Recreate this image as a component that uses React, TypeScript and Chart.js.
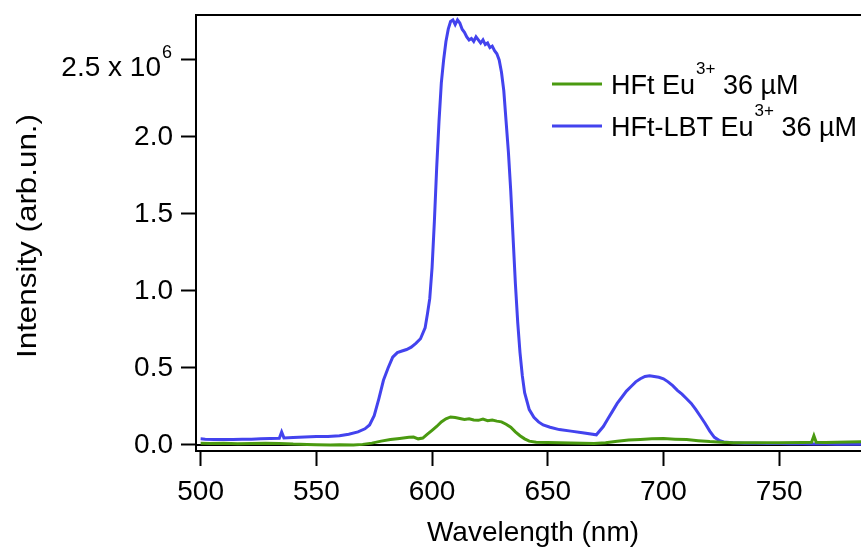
import React, { useEffect, useRef } from "react";
import { Chart, registerables } from "chart.js";

Chart.register(...registerables);

// HFt Eu3+ 36 µM (green) — wavelength (nm) and intensity (×10^6 arb.un.)
const hftWavelength = [
  500, 504, 510, 516, 522, 528, 534, 540, 546, 550, 556, 560, 566, 570, 574, 578,
  582, 586, 590, 592, 594, 596, 598, 600, 602, 604, 606, 608, 610, 612, 614, 616,
  618, 620, 622, 624, 626, 628, 630, 632, 634, 636, 638, 640, 642, 645, 650, 655,
  660, 665, 670, 675, 680, 685, 690, 695, 700, 705, 710, 715, 720, 725, 730, 740,
  750, 760, 764, 765, 766, 770, 775, 780, 786,
];
const hftIntensity = [
  0.012, 0.010, 0.012, 0.008, 0.010, 0.012, 0.010, 0.006, 0.004, 0.002, 0.000, 0.002, 0.000, 0.004, 0.012, 0.025,
  0.035, 0.042, 0.050, 0.052, 0.040, 0.045, 0.070, 0.095, 0.120, 0.150, 0.170, 0.182, 0.178, 0.172, 0.166, 0.170,
  0.162, 0.160, 0.168, 0.158, 0.162, 0.155, 0.150, 0.135, 0.115, 0.085, 0.060, 0.040, 0.025, 0.018, 0.016, 0.015,
  0.013, 0.012, 0.010, 0.015, 0.025, 0.032, 0.036, 0.040, 0.042, 0.038, 0.035, 0.028, 0.022, 0.018, 0.015, 0.014,
  0.014, 0.016, 0.018, 0.060, 0.018, 0.016, 0.018, 0.020, 0.022,
];

// HFt-LBT Eu3+ 36 µM (blue)
const lbtWavelength = [
  500, 502, 506, 510, 514, 518, 522, 526, 530, 534, 535, 536, 540, 545, 550, 555,
  560, 564, 568, 571, 573, 575, 577, 579, 581, 583, 585, 587, 589, 591, 593, 595,
  597, 598, 599, 600, 601, 602, 603, 604, 605, 606, 607, 608, 609, 610, 611, 612,
  613, 614, 615, 616, 617, 618, 619, 620, 621, 622, 623, 624, 625, 626, 627, 628,
  629, 630, 631, 632, 633, 634, 635, 636, 637, 638, 639, 640, 642, 644, 646, 648,
  651, 655, 660, 665, 671, 674, 676, 678, 680, 682, 684, 686, 688, 690, 692, 694,
  696, 698, 700, 702, 704, 706, 708, 710, 712, 714, 716, 718, 720, 722, 724, 726,
  730, 735, 740, 745, 750, 755, 760, 765, 770, 775, 780, 786,
];
const lbtIntensity = [
  0.040, 0.038, 0.036, 0.035, 0.036, 0.038, 0.037, 0.040, 0.042, 0.044, 0.085, 0.046, 0.048, 0.052, 0.055, 0.055,
  0.060, 0.070, 0.085, 0.105, 0.130, 0.190, 0.300, 0.420, 0.500, 0.570, 0.600, 0.610, 0.620, 0.635, 0.660, 0.690,
  0.760, 0.850, 0.950, 1.150, 1.450, 1.800, 2.100, 2.350, 2.500, 2.620, 2.700, 2.750, 2.760, 2.730, 2.760, 2.740,
  2.700, 2.680, 2.650, 2.630, 2.640, 2.620, 2.650, 2.630, 2.610, 2.630, 2.600, 2.610, 2.580, 2.590, 2.560, 2.540,
  2.500, 2.420, 2.300, 2.100, 1.900, 1.650, 1.350, 1.050, 0.800, 0.600, 0.450, 0.340, 0.230, 0.180, 0.150, 0.130,
  0.115, 0.100, 0.090, 0.080, 0.066, 0.120, 0.170, 0.220, 0.270, 0.310, 0.350, 0.380, 0.410, 0.430, 0.445, 0.450,
  0.445, 0.440, 0.430, 0.410, 0.385, 0.355, 0.330, 0.300, 0.270, 0.230, 0.185, 0.140, 0.090, 0.050, 0.030, 0.020,
  0.015, 0.012, 0.012, 0.010, 0.010, 0.008, 0.008, 0.006, 0.006, 0.005, 0.005, 0.005,
];

const xTickValues = [500, 550, 600, 650, 700, 750];
const yTickValues = [0, 0.5, 1.0, 1.5, 2.0, 2.5];

const GREEN = "#4a9a10";
const BLUE = "#4343ee";
const FONT = "'Liberation Sans', Arial, sans-serif";

const overlayPlugin = {
  id: "overlay",
  beforeDatasetsDraw(chart: any) {
    const { ctx, chartArea } = chart;
    const y0 = chart.scales.y.getPixelForValue(0);
    ctx.save();
    ctx.strokeStyle = "#000";
    ctx.lineWidth = 2;
    ctx.beginPath();
    ctx.moveTo(chartArea.left, y0);
    ctx.lineTo(chartArea.right, y0);
    ctx.stroke();
    ctx.restore();
  },
  afterDraw(chart: any) {
    const { ctx, chartArea } = chart;
    ctx.save();
    // top frame
    ctx.strokeStyle = "#000";
    ctx.lineWidth = 2;
    ctx.beginPath();
    ctx.moveTo(chartArea.left - 1, chartArea.top);
    ctx.lineTo(chartArea.right, chartArea.top);
    ctx.stroke();

    ctx.fillStyle = "#000";
    // top y tick label "2.5 x 10^6"
    const yTop = chart.scales.y.getPixelForValue(2.5);
    ctx.textAlign = "left";
    ctx.textBaseline = "alphabetic";
    const mainTxt = "2.5 x 10";
    ctx.font = `18px ${FONT}`;
    const supW = ctx.measureText("6").width;
    ctx.font = `28px ${FONT}`;
    const mainW = ctx.measureText(mainTxt).width;
    const rightEdge = 172;
    const startX = rightEdge - supW - mainW - 1;
    ctx.fillText(mainTxt, startX, yTop + 16.5);
    ctx.font = `18px ${FONT}`;
    ctx.fillText("6", startX + mainW + 1, yTop - 1.5);

    // axis titles
    ctx.font = `28px ${FONT}`;
    ctx.textAlign = "center";
    ctx.fillText("Wavelength (nm)", 533, 541);
    ctx.save();
    ctx.translate(35.5, 236);
    ctx.rotate(-Math.PI / 2);
    ctx.scale(1.12, 1);
    ctx.fillText("Intensity (arb.un.)", 0, 0);
    ctx.restore();

    // legend
    const entries = [
      { color: GREEN, pre: "HFt Eu", post: " 36 µM", y: 84 },
      { color: BLUE, pre: "HFt-LBT Eu", post: " 36 µM", y: 126 },
    ];
    ctx.textAlign = "left";
    for (const e of entries) {
      ctx.strokeStyle = e.color;
      ctx.lineWidth = 3;
      ctx.beginPath();
      ctx.moveTo(552, e.y);
      ctx.lineTo(602, e.y);
      ctx.stroke();
      const base = e.y + 9.5;
      let x = 611;
      ctx.font = `27px ${FONT}`;
      ctx.fillText(e.pre, x, base);
      x += ctx.measureText(e.pre).width;
      ctx.font = `17px ${FONT}`;
      ctx.fillText("3+", x + 1, base - 20);
      x += ctx.measureText("3+").width + 1;
      ctx.font = `27px ${FONT}`;
      ctx.fillText(e.post, x, base);
    }
    ctx.restore();
  },
};

export default function App() {
  const canvasRef = useRef<HTMLCanvasElement | null>(null);

  useEffect(() => {
    if (!canvasRef.current) return;
    const hftData = hftWavelength.map((w, i) => ({ x: w, y: hftIntensity[i] }));
    const lbtData = lbtWavelength.map((w, i) => ({ x: w, y: lbtIntensity[i] }));
    const chart = new Chart(canvasRef.current, {
      type: "line",
      data: {
        datasets: [
          {
            label: "HFt Eu3+ 36 µM",
            data: hftData,
            borderColor: GREEN,
            borderWidth: 3,
            pointRadius: 0,
            tension: 0,
          },
          {
            label: "HFt-LBT Eu3+ 36 µM",
            data: lbtData,
            borderColor: BLUE,
            borderWidth: 3,
            pointRadius: 0,
            tension: 0,
          },
        ],
      },
      options: {
        responsive: false,
        animation: false,
        devicePixelRatio: 1,
        layout: { autoPadding: false, padding: { top: 15, left: 0, right: 0, bottom: 0 } },
        plugins: {
          legend: { display: false },
          tooltip: { enabled: false },
        },
        scales: {
          x: {
            type: "linear",
            min: 498,
            max: 785.35,
            afterFit: (s: any) => {
              s.height = 97;
              s.paddingLeft = 0;
              s.paddingRight = 0;
            },
            afterBuildTicks: (s: any) => {
              s.ticks = xTickValues.map((v) => ({ value: v }));
            },
            ticks: {
              includeBounds: false,
              color: "#000",
              font: { family: FONT, size: 28 },
              padding: 9,
              maxRotation: 0,
              callback: (v: any) => String(v),
            },
            grid: {
              drawOnChartArea: false,
              drawTicks: true,
              tickLength: 15,
              tickWidth: 2,
              tickColor: "#000",
            },
            border: { display: true, color: "#000", width: 2 },
          },
          y: {
            type: "linear",
            min: -0.039,
            max: 2.792,
            afterFit: (s: any) => {
              s.width = 196;
              s.paddingTop = 0;
              s.paddingBottom = 0;
            },
            afterBuildTicks: (s: any) => {
              s.ticks = yTickValues.map((v) => ({ value: v }));
            },
            ticks: {
              includeBounds: false,
              color: "#000",
              font: { family: FONT, size: 28 },
              padding: 8,
              callback: (v: any) => (Math.abs(v - 2.5) < 1e-9 ? "" : Number(v).toFixed(1)),
            },
            grid: {
              drawOnChartArea: false,
              drawTicks: true,
              tickLength: 15,
              tickWidth: 2,
              tickColor: "#000",
            },
            border: { display: true, color: "#000", width: 2 },
          },
        },
      },
      plugins: [overlayPlugin],
    });
    return () => chart.destroy();
  }, []);

  return (
    <div style={{ position: "absolute", left: 0, top: 0, width: 861, height: 548, background: "#fff" }}>
      <canvas ref={canvasRef} width={861} height={548} style={{ display: "block" }} />
    </div>
  );
}
